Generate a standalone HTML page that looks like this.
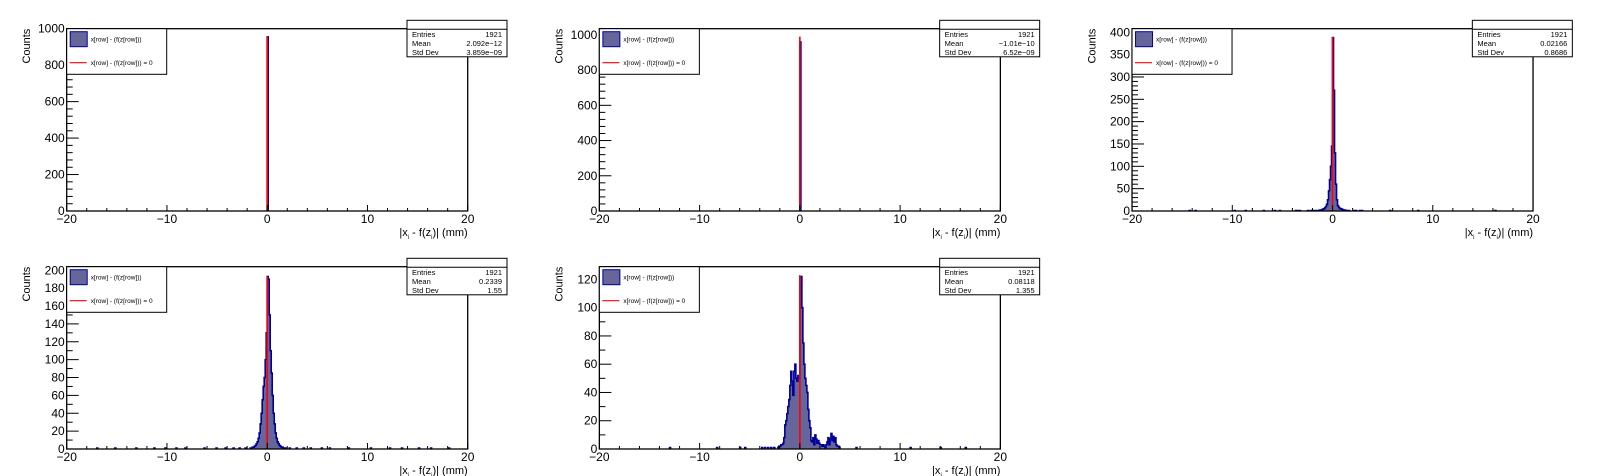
<!DOCTYPE html>
<html><head><meta charset="utf-8">
<style>
html,body{margin:0;padding:0;background:#fff;}
svg{display:block;font-family:"Liberation Sans",sans-serif;}
</style></head>
<body>
<svg id="c" width="1598" height="476" viewBox="0 0 1598 476"></svg>
<script>
// ---- data (bin width 0.1 mm, counts listed from start value) ----
const xTicks = [-20, -10, 0, 10, 20];
const p1Start = 0.0;  const p1Counts = [955];
const p2Start = 0.0;  const p2Counts = [960];
const p3Start = -1.9; const p3Counts = [1,1,1,1,1,1,2,2,3,4,5,7,10,15,25,45,70,100,145,388,270,130,60,25,12,8,6,5,4,3,2,2,1,1,1,1];
const p3Outliers = [-14.3,-13.7,-9.8,-8.7,-6.9,-5.8,-5.3,-3.7,-3.5,-3.3,-2.5,-2.2,2.1,2.3,2.7,2.9,5.7,8.5,16.2];
const p4Start = -1.7; const p4Counts = [1,1,2,2,3,4,6,8,12,18,28,40,55,70,80,100,130,193,190,150,110,85,60,40,28,18,12,8,6,4,3,2,2,1,1,1];
const p4Outliers = [-17,-15.2,-13.1,-11.3,-10.2,-9.1,-8.2,-6.3,-5.1,-4.2,-3.4,-2.8,-2.2,2.2,2.9,3.6,4.3,5.4,6.2,8.1,10.3,12.2,13.4,15.1,16.3,18.1];
const p5Start = -2.2; const p5Counts = [1,2,2,3,3,4,8,17,20,25,30,35,45,55,48,38,55,60,50,48,52,50,122,122,100,75,60,50,45,40,28,20,15,6,5,8,3,10,7,4,6,4,3,3,2,3,2,1,3,5,8,3,7,11,6,9,5,8,3,2,2,1];
const p5Outliers = [-13,-8.3,-6,-5.5,-3.8,-3.5,-3.2,-2.9,-2.6,5.6,11,14,16.5];
const yMaxes = [1000, 1035, 408, 204, 129];
const yMajor = [200, 200, 50, 20, 20];
const yMinorN = [5, 5, 5, 2, 2];
const statEntries = ["1921","1921","1921","1921","1921"];
const statMeans = ["2.092e\u221212","\u22121.01e\u221210","0.02166","0.2339","0.08118"];
const statStd = ["3.859e\u221209","6.52e\u221209","0.8686","1.55","1.355"];
const redHeights = [955, 990, 390, 193, 123];

const panels = [
 {start:p1Start, counts:p1Counts, out:[]},
 {start:p2Start, counts:p2Counts, out:[]},
 {start:p3Start, counts:p3Counts, out:p3Outliers},
 {start:p4Start, counts:p4Counts, out:p4Outliers},
 {start:p5Start, counts:p5Counts, out:p5Outliers},
];
const svg = document.getElementById('c');
const NS = 'http://www.w3.org/2000/svg';
function mk(tag, attrs, parent, text){
  const e = document.createElementNS(NS, tag);
  for (const k in attrs) e.setAttribute(k, attrs[k]);
  if (text !== undefined) e.textContent = text;
  (parent||svg).appendChild(e); return e;
}
const padW = 1598/3, padH = 238;
panels.forEach((p, i) => {
  const col = i % 3, row = Math.floor(i/3);
  const ox = col*padW, oy = row*padH;
  const L = ox + 66.7, R = ox + 467.7, T = oy + 28.7, B = oy + 211;
  const g = mk('g', {});
  
  
  const X = v => L + (v + 20) / 40 * (R - L);
  const Y = v => B - v / yMaxes[i] * (B - T);
  const bins = new Map();
  p.counts.forEach((c, k) => { const b = Math.round(p.start*10) + k; bins.set(b, (bins.get(b)||0) + c); });
  p.out.forEach(v => { const b = Math.floor(v*10); bins.set(b, (bins.get(b)||0) + 1); });
  const keys = [...bins.keys()].sort((a,b)=>a-b);
  let d = '';
  let prev = null;
  keys.forEach(b => {
    const x0 = X(b/10), x1 = X((b+1)/10), y = Y(bins.get(b));
    if (prev === null || prev !== b-1) d += `M${x0},${B} `;
    d += `L${x0},${y} L${x1},${y} `;
    if (!bins.has(b+1)) d += `L${x1},${B} `;
    prev = b;
  });
  const fill = mk('path', {d: d, fill:'#66669a', stroke:'none'}, g);
  
  
  const line = mk('path', {d, fill:'none', stroke:'#000099', 'stroke-width':1.6}, g);
  
  
  const rl = mk('line', {x1:X(0), x2:X(0), y1:B, y2:Y(redHeights[i]), stroke:'#ff0000', 'stroke-width':1.6}, g);
  
  
  const fr = mk('rect', {x:L, y:T, width:R-L, height:B-T, fill:'none', stroke:'#000', 'stroke-width':1.3}, g);
  
  
  for (let v = -20; v <= 20; v += 2) {
    const maj = v % 10 === 0;
    mk('line', {x1:X(v), x2:X(v), y1:B, y2:B-(maj?6:3), stroke:'#000', 'stroke-width':1}, g);
  }
  xTicks.forEach(v => {
    const t = mk('text', {x:X(v), y:B+12, 'font-size':12, 'text-anchor':'middle'}, g, v < 0 ? '\u2212' + (-v) : String(v));
    
    
  });
  const minor = yMajor[i] / yMinorN[i];
  for (let v = 0; v <= yMaxes[i] + 1e-9; v += minor) {
    const maj = Math.abs(v / yMajor[i] - Math.round(v / yMajor[i])) < 1e-6;
    mk('line', {x1:L, x2:L+(maj?12:6), y1:Y(v), y2:Y(v), stroke:'#000', 'stroke-width':1}, g);
    if (maj) {
      const t = mk('text', {x:L-2, y:Y(v)+4, 'font-size':12, 'text-anchor':'end'}, g, String(Math.round(v)));
      
      
    }
  }
  const xt = mk('text', {x:R, y:B+25, 'font-size':11, 'text-anchor':'end'}, g);
  
  
  xt.innerHTML = '|x<tspan font-size="6" dy="3">i</tspan><tspan dy="-3"> - f(z</tspan><tspan font-size="6" dy="3">i</tspan><tspan dy="-3">)| (mm)</tspan>';
  const yt = mk('text', {x:0, y:0, 'font-size':11, 'text-anchor':'end', transform:`translate(${ox+30},${T}) rotate(-90)`}, g, 'Counts');
  
  
  const lg = mk('g', {}, g);
  
  
  mk('rect', {x:L, y:T, width:100, height:45.6, fill:'#fff', stroke:'#000', 'stroke-width':1}, lg);
  mk('rect', {x:L+3.5, y:T+3, width:17, height:15, fill:'#66669a', stroke:'#000099', 'stroke-width':1}, lg);
  mk('text', {x:L+24, y:T+13, 'font-size':6.5}, lg, 'x[row] - (f(z[row]))');
  mk('line', {x1:L+3, x2:L+20, y1:T+34, y2:T+34, stroke:'#ff0000', 'stroke-width':1.2}, lg);
  mk('text', {x:L+24, y:T+36.5, 'font-size':6.5}, lg, 'x[row] - (f(z[row])) = 0');
  const sb = mk('g', {}, g);
  
  
  const sx = ox + 407, sw = 100, sy = oy + 20.3;
  mk('rect', {x:sx, y:sy, width:sw, height:36.5, fill:'#fff', stroke:'#000', 'stroke-width':1}, sb);
  mk('line', {x1:sx, x2:sx+sw, y1:sy+9, y2:sy+9, stroke:'#000', 'stroke-width':1}, sb);
  const rows = [['Entries', statEntries[i]], ['Mean', statMeans[i]], ['Std Dev', statStd[i]]];
  rows.forEach((r, k) => {
    mk('text', {x:sx+5, y:sy+16.5+k*9, 'font-size':7.5}, sb, r[0]);
    mk('text', {x:sx+sw-5, y:sy+16.5+k*9, 'font-size':7.5, 'text-anchor':'end'}, sb, r[1]);
  });
});
</script>
</body></html>
